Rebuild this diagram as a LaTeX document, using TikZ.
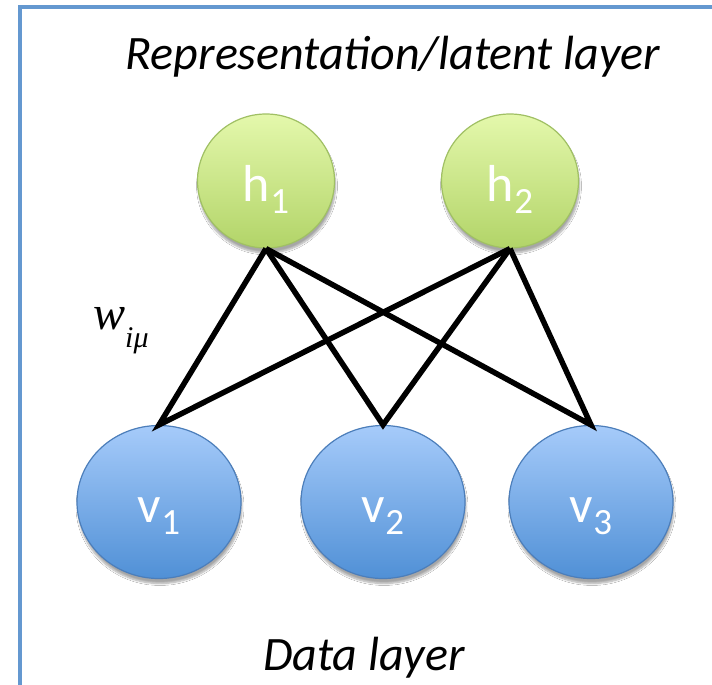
\documentclass[tikz,border=0pt]{standalone}
\usepackage{fontspec}
\setmainfont{Carlito}
\newfontfamily\tms{Liberation Serif}
\usetikzlibrary{shapes.geometric,shadows.blur}
\definecolor{framecol}{RGB}{100,152,208}
\definecolor{gtop}{RGB}{228,248,172}
\definecolor{gbot}{RGB}{178,212,104}
\definecolor{gline}{RGB}{160,192,100}
\definecolor{btop}{RGB}{166,203,250}
\definecolor{bbot}{RGB}{80,144,214}
\definecolor{bline}{RGB}{76,126,186}
\tikzset{
  hnode/.style={ellipse, minimum width=137pt, minimum height=134pt, inner sep=0pt,
    draw=gline, line width=1.2pt, top color=gtop, bottom color=gbot,
    blur shadow={shadow xshift=1pt, shadow yshift=-5pt, shadow blur steps=8, shadow opacity=35},
    text=white, font=\fontsize{52}{52}\selectfont},
  vnode/.style={ellipse, minimum width=164pt, minimum height=153pt, inner sep=0pt,
    draw=bline, line width=1.2pt, top color=btop, bottom color=bbot,
    blur shadow={shadow xshift=1pt, shadow yshift=-5pt, shadow blur steps=8, shadow opacity=35},
    text=white, font=\fontsize{52}{52}\selectfont},
  edge/.style={line width=5.5pt, black, line join=miter},
  layertext/.style={anchor=base, font=\itshape\fontsize{48}{48}\selectfont},
}
\newcommand{\nlab}[2]{\raisebox{-20pt}[0pt][0pt]{#1\raisebox{-12pt}{\fontsize{37}{37}\selectfont #2}}}
\begin{document}
\begin{tikzpicture}[x=1pt,y=-1pt]
\useasboundingbox (0,0) rectangle (712,685);
\fill[white] (0,0) rectangle (712,685);
\draw[framecol, line width=4pt, line join=miter] (716,7) -- (20,7) -- (20,690);
\node[hnode] (h1) at (266,181) {\nlab{h}{1}};
\node[hnode] (h2) at (510,181) {\nlab{h}{2}};
\node[vnode] (v1) at (159,502) {\nlab{v}{1}};
\node[vnode] (v2) at (383,502) {\nlab{v}{2}};
\node[vnode] (v3) at (591,502) {\nlab{v}{3}};
\draw[edge] (h1.south) -- (v1.north) -- (h2.south);
\draw[edge] (h1.south) -- (v2.north) -- (h2.south);
\draw[edge] (h1.south) -- (v3.north) -- (h2.south);
\node[layertext] (top) at (393,70) {Representation/latent layer};
\node[layertext] (bot) at (364,670) {Data layer};
\node[anchor=base west, inner sep=0pt] (w) at (93,329) {\tms\itshape\fontsize{48}{48}\selectfont w\raisebox{-18pt}{\fontsize{30}{30}\selectfont iμ}};
\end{tikzpicture}
\end{document}
